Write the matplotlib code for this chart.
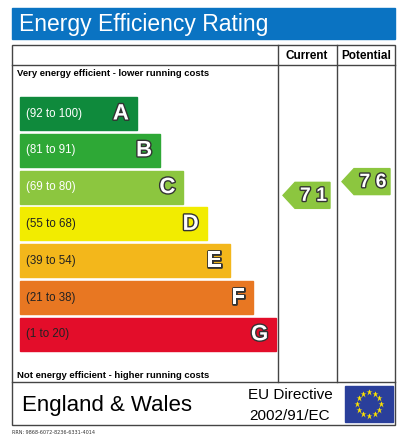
import matplotlib
matplotlib.use("Agg")
import matplotlib.pyplot as plt
from matplotlib.patches import Rectangle, Polygon
import matplotlib.patheffects as pe
import numpy as np

letters = ["A", "B", "C", "D", "E", "F", "G"]
ranges = ["(92 to 100)", "(81 to 91)", "(69 to 80)", "(55 to 68)", "(39 to 54)", "(21 to 38)", "(1 to 20)"]
lows = [92, 81, 69, 55, 39, 21, 1]
highs = [100, 91, 80, 68, 54, 38, 20]
colors = ["#0f8a3c", "#2ea836", "#8cc63f", "#f2ec00", "#f3b71b", "#e87722", "#e30d2a"]
current = 71
potential = 76

W, H = 408, 437
fig = plt.figure(figsize=(W/100, H/100), dpi=100)
ax = fig.add_axes([0, 0, 1, 1])
ax.set_xlim(0, W); ax.set_ylim(H, 0); ax.axis("off")

ax.add_patch(Rectangle((12, 8), 383, 31, color="#0a73c2"))
ax.text(19, 24, "Energy Efficiency Rating", color="white", fontsize=16.5, va="center", family="Liberation Sans")

lw = 1
ax.add_patch(Rectangle((12, 45), 383, 380, fill=False, ec="#444", lw=lw))
ax.plot([12, 395], [65, 65], color="#444", lw=lw)
ax.plot([12, 395], [382, 382], color="#444", lw=lw)
for x in (278, 337):
    ax.plot([x, x], [45, 382], color="#444", lw=lw)
ax.text(307, 56, "Current", ha="center", va="center", fontsize=8.5, weight="bold", family="Liberation Sans")
ax.text(366, 56, "Potential", ha="center", va="center", fontsize=8.5, weight="bold", family="Liberation Sans")
ax.text(17, 73, "Very energy efficient - lower running costs", fontsize=6.8, weight="bold", va="center", family="Liberation Sans")
ax.text(17, 375, "Not energy efficient - higher running costs", fontsize=6.8, weight="bold", va="center", family="Liberation Sans")

stroke = [pe.withStroke(linewidth=2, foreground="#333")]
tops = []
for i, (L, r, c) in enumerate(zip(letters, ranges, colors)):
    top = 97 + i * 36.8
    tops.append(top)
    right = 137 + i * 23.2
    ax.add_patch(Rectangle((20, top), right - 20, 33, color=c))
    tc = "white" if i in (0, 1, 2) else "#222"
    ax.text(26, top + 16.5, r, fontsize=8.3, color=tc, va="center", family="Liberation Sans")
    ax.text(right - 8, top + 17, L, fontsize=16, weight="bold", color="white", ha="right", va="center",
            path_effects=stroke, family="Liberation Sans")

def ypos(v):
    for i in range(7):
        if lows[i] <= v <= highs[i]:
            return tops[i] + (highs[i] - v) / (highs[i] - lows[i] + 1) * 33
    return tops[-1]

def arrow(x0, x1, yc, val, c):
    h = 13
    ax.add_patch(Polygon([(x0, yc), (x0 + 12, yc - h), (x1, yc - h), (x1, yc + h), (x0 + 12, yc + h)], color=c))
    ax.text((x0 + 12 + x1) / 2 + 1, yc + 1, " ".join(str(val)), fontsize=14, weight="bold", color="white",
            ha="center", va="center", path_effects=stroke, family="Liberation Sans")

def band_color(v):
    for i in range(7):
        if lows[i] <= v <= highs[i]:
            return colors[i]
arrow(283, 330, ypos(current), current, band_color(current))
arrow(342, 390, ypos(potential), potential, band_color(potential))

ax.text(22, 406, "England & Wales", fontsize=16, va="center", family="Liberation Sans")
ax.text(290, 395, "EU Directive", fontsize=11, ha="center", va="center", family="Liberation Sans")
ax.text(290, 416, "2002/91/EC", fontsize=11, ha="center", va="center", family="Liberation Sans")
ax.add_patch(Rectangle((345, 386), 48, 36, color="#2a3f9b"))
for a in np.linspace(0, 2*np.pi, 13)[:-1]:
    ax.plot(369 + 12*np.cos(a), 404 + 12*np.sin(a), marker="*", color="#ffe400", ms=4.5, mec="none")
ax.text(12, 432, "RRN: 9868-6072-8236-6331-4014", fontsize=3.5, va="center", color="#333")

fig.savefig("out.png", dpi=100, facecolor="white")
